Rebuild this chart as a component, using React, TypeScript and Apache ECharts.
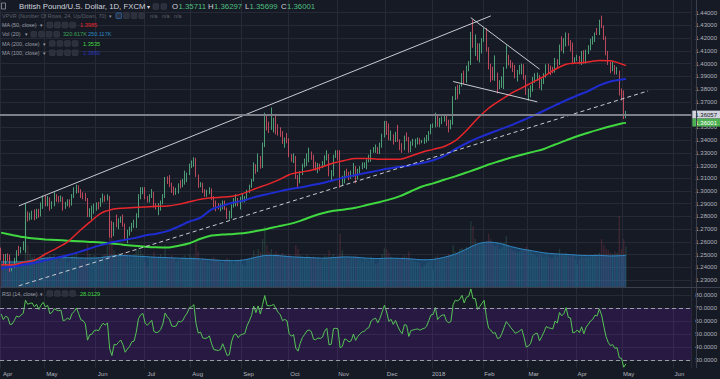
import React, { useEffect, useRef } from 'react';
import * as echarts from 'echarts';

// ---------------- data (GBP/USD daily, FXCM) ----------------
const firstDay = '2017-04-03';
const categoryCount = 312; // trading days shown on the time axis (incl. empty space to the right)
const monthNames = ['Jan', 'Feb', 'Mar', 'Apr', 'May', 'Jun', 'Jul', 'Aug', 'Sep', 'Oct', 'Nov', 'Dec'];

// closes of the 15 sessions before the first visible bar (needed by RSI 14)
const preCloses = [1.2200, 1.2160, 1.2300, 1.2380, 1.2395, 1.2365, 1.2470, 1.2480, 1.2485, 1.2475, 1.2580, 1.2435, 1.2415, 1.2470, 1.2550];

const closes = [
  // Apr 2017
  1.2485, 1.2430, 1.2485, 1.2475, 1.2405, 1.2410, 1.2460, 1.2525, 1.2515, 1.2545, 1.2570, 1.2830, 1.2795, 1.2815, 1.2825, 1.2795, 1.2845, 1.2805, 1.2885, 1.2945,
  // May
  1.2910, 1.2940, 1.2875, 1.2895, 1.2955, 1.2945, 1.2940, 1.2950, 1.2875, 1.2885, 1.2905, 1.2895, 1.2960, 1.2990, 1.3035, 1.3000, 1.2960, 1.2955, 1.2935, 1.2805, 1.2850, 1.2855, 1.2885,
  // Jun
  1.2890, 1.2885, 1.2920, 1.2945, 1.2935, 1.2950, 1.2745, 1.2655, 1.2745, 1.2740, 1.2760, 1.2780, 1.2730, 1.2640, 1.2665, 1.2685, 1.2720, 1.2725, 1.2800, 1.2950, 1.3005, 1.3025,
  // Jul
  1.2945, 1.2925, 1.2955, 1.2985, 1.2885, 1.2875, 1.2880, 1.2905, 1.2960, 1.3100, 1.3070, 1.3050, 1.2995, 1.2990, 1.2995, 1.3045, 1.3040, 1.3055, 1.3100, 1.3135, 1.3205,
  // Aug
  1.3215, 1.3245, 1.3120, 1.3040, 1.3050, 1.2995, 1.2990, 1.2995, 1.3010, 1.2940, 1.2880, 1.2875, 1.2870, 1.2875, 1.2910, 1.2860, 1.2795, 1.2800, 1.2880, 1.2930, 1.2940, 1.2910, 1.2930,
  // Sep
  1.2935, 1.2940, 1.2995, 1.3035, 1.3085, 1.3200, 1.3160, 1.3255, 1.3200, 1.3355, 1.3590, 1.3500, 1.3495, 1.3505, 1.3530, 1.3495, 1.3465, 1.3445, 1.3395, 1.3410, 1.3400,
  // Oct
  1.3280, 1.3255, 1.3270, 1.3110, 1.3065, 1.3140, 1.3200, 1.3235, 1.3275, 1.3285, 1.3270, 1.3190, 1.3185, 1.3200, 1.3195, 1.3205, 1.3255, 1.3280, 1.3125, 1.3130, 1.3280, 1.3285,
  // Nov
  1.3280, 1.3060, 1.3075, 1.3150, 1.3140, 1.3115, 1.3125, 1.3190, 1.3120, 1.3160, 1.3185, 1.3205, 1.3210, 1.3235, 1.3245, 1.3310, 1.3330, 1.3340, 1.3310, 1.3355, 1.3430, 1.3525,
  // Dec
  1.3480, 1.3410, 1.3435, 1.3395, 1.3440, 1.3395, 1.3355, 1.3330, 1.3420, 1.3415, 1.3315, 1.3375, 1.3380, 1.3385, 1.3390, 1.3380, 1.3390, 1.3395, 1.3410, 1.3455, 1.3510,
  // Jan 2018
  1.3515, 1.3590, 1.3520, 1.3550, 1.3565, 1.3570, 1.3535, 1.3525, 1.3535, 1.3720, 1.3800, 1.3795, 1.3825, 1.3905, 1.3860, 1.3975, 1.3995, 1.4220, 1.4145, 1.4150, 1.4060, 1.4120, 1.4190,
  // Feb
  1.4265, 1.4110, 1.3965, 1.3940, 1.3895, 1.3905, 1.3825, 1.3830, 1.3885, 1.3965, 1.4055, 1.4025, 1.3990, 1.3960, 1.3925, 1.3935, 1.3950, 1.3970, 1.3890, 1.3765,
  // Mar
  1.3775, 1.3800, 1.3875, 1.3895, 1.3900, 1.3820, 1.3860, 1.3905, 1.3965, 1.3955, 1.3950, 1.3945, 1.4025, 1.4010, 1.4140, 1.4115, 1.4145, 1.4235, 1.4160, 1.4155, 1.4020, 1.4025,
  // Apr
  1.4050, 1.4025, 1.4085, 1.4020, 1.4090, 1.4125, 1.4165, 1.4185, 1.4240, 1.4235, 1.4335, 1.4290, 1.4195, 1.4085, 1.4010, 1.3965, 1.3975, 1.3925, 1.3930, 1.3775, 1.3765,
  // May
  1.35711, 1.36001,
];

const highs = [
  1.2555, 1.2505, 1.2505, 1.2510, 1.2500, 1.2425, 1.2475, 1.2535, 1.2570, 1.2560, 1.2605, 1.2905, 1.2840, 1.2830, 1.2845, 1.2855, 1.2860, 1.2860, 1.2910, 1.2965,
  1.2965, 1.2960, 1.2950, 1.2920, 1.2990, 1.2975, 1.2960, 1.2965, 1.2955, 1.2915, 1.2935, 1.2935, 1.2975, 1.3030, 1.3050, 1.3045, 1.3015, 1.2990, 1.2985, 1.2945, 1.2865, 1.2885, 1.2900,
  1.2910, 1.2915, 1.2945, 1.2980, 1.2965, 1.2975, 1.2960, 1.2765, 1.2755, 1.2815, 1.2785, 1.2800, 1.2815, 1.2745, 1.2695, 1.2720, 1.2750, 1.2775, 1.2825, 1.2975, 1.3030, 1.3030,
  1.3030, 1.2960, 1.2975, 1.3015, 1.2995, 1.2905, 1.2905, 1.2925, 1.2975, 1.3110, 1.3115, 1.3125, 1.3065, 1.3035, 1.3025, 1.3060, 1.3085, 1.3095, 1.3160, 1.3145, 1.3215,
  1.3240, 1.3265, 1.3260, 1.3130, 1.3070, 1.3065, 1.3015, 1.3010, 1.3030, 1.3020, 1.2960, 1.2925, 1.2905, 1.2900, 1.2925, 1.2925, 1.2870, 1.2845, 1.2895, 1.2945, 1.2975, 1.2945, 1.2955,
  1.2980, 1.2960, 1.3010, 1.3050, 1.3095, 1.3225, 1.3210, 1.3295, 1.3275, 1.3380, 1.3615, 1.3600, 1.3545, 1.3655, 1.3575, 1.3605, 1.3525, 1.3500, 1.3470, 1.3420, 1.3455,
  1.3415, 1.3290, 1.3295, 1.3275, 1.3125, 1.3155, 1.3215, 1.3255, 1.3295, 1.3340, 1.3310, 1.3285, 1.3230, 1.3220, 1.3215, 1.3235, 1.3280, 1.3320, 1.3290, 1.3165, 1.3285, 1.3320,
  1.3320, 1.3320, 1.3120, 1.3160, 1.3175, 1.3150, 1.3160, 1.3220, 1.3195, 1.3175, 1.3195, 1.3225, 1.3225, 1.3250, 1.3285, 1.3325, 1.3345, 1.3365, 1.3345, 1.3380, 1.3450, 1.3550,
  1.3550, 1.3530, 1.3475, 1.3445, 1.3465, 1.3520, 1.3405, 1.3375, 1.3435, 1.3460, 1.3425, 1.3390, 1.3410, 1.3410, 1.3420, 1.3415, 1.3400, 1.3420, 1.3440, 1.3470, 1.3525,
  1.3530, 1.3615, 1.3605, 1.3575, 1.3585, 1.3600, 1.3590, 1.3560, 1.3560, 1.3745, 1.3820, 1.3835, 1.3835, 1.3925, 1.3945, 1.3985, 1.4020, 1.4250, 1.4345, 1.4230, 1.4160, 1.4160, 1.4200,
  1.4280, 1.4280, 1.4130, 1.4000, 1.3975, 1.4065, 1.3930, 1.3870, 1.3900, 1.3975, 1.4145, 1.4070, 1.4030, 1.4010, 1.3990, 1.3950, 1.3990, 1.4000, 1.3995, 1.3910,
  1.3805, 1.3830, 1.3895, 1.3925, 1.3930, 1.3910, 1.3880, 1.3925, 1.3995, 1.4000, 1.3985, 1.3975, 1.4045, 1.4035, 1.4150, 1.4215, 1.4200, 1.4245, 1.4240, 1.4185, 1.4165, 1.4050,
  1.4070, 1.4060, 1.4100, 1.4105, 1.4110, 1.4145, 1.4195, 1.4215, 1.4245, 1.4280, 1.4345, 1.4377, 1.4300, 1.4215, 1.4100, 1.4015, 1.4015, 1.3990, 1.3975, 1.3945, 1.3805,
  1.3790, 1.36297,
];

const lows = [
  1.2455, 1.2420, 1.2425, 1.2450, 1.2365, 1.2370, 1.2395, 1.2440, 1.2490, 1.2510, 1.2535, 1.2515, 1.2760, 1.2770, 1.2775, 1.2770, 1.2780, 1.2790, 1.2800, 1.2860,
  1.2880, 1.2880, 1.2845, 1.2860, 1.2880, 1.2915, 1.2910, 1.2915, 1.2845, 1.2860, 1.2880, 1.2870, 1.2885, 1.2945, 1.2980, 1.2985, 1.2945, 1.2935, 1.2920, 1.2795, 1.2795, 1.2775, 1.2820,
  1.2845, 1.2855, 1.2875, 1.2910, 1.2915, 1.2925, 1.2635, 1.2630, 1.2645, 1.2715, 1.2700, 1.2750, 1.2720, 1.2620, 1.2590, 1.2650, 1.2680, 1.2710, 1.2710, 1.2790, 1.2935, 1.2975,
  1.2935, 1.2910, 1.2910, 1.2945, 1.2870, 1.2855, 1.2810, 1.2845, 1.2895, 1.2945, 1.3055, 1.3030, 1.2985, 1.2965, 1.2970, 1.2980, 1.3020, 1.3030, 1.3050, 1.3070, 1.3125,
  1.3180, 1.3190, 1.3110, 1.3025, 1.3030, 1.2985, 1.2955, 1.2955, 1.2975, 1.2930, 1.2870, 1.2840, 1.2855, 1.2840, 1.2855, 1.2850, 1.2780, 1.2775, 1.2785, 1.2870, 1.2880, 1.2880, 1.2855,
  1.2910, 1.2910, 1.2925, 1.2985, 1.3025, 1.3075, 1.3135, 1.3150, 1.3175, 1.3180, 1.3345, 1.3475, 1.3455, 1.3480, 1.3460, 1.3445, 1.3435, 1.3425, 1.3370, 1.3340, 1.3375,
  1.3265, 1.3230, 1.3220, 1.3095, 1.3030, 1.3060, 1.3125, 1.3185, 1.3195, 1.3225, 1.3245, 1.3175, 1.3160, 1.3140, 1.3160, 1.3180, 1.3195, 1.3240, 1.3115, 1.3085, 1.3115, 1.3260,
  1.3240, 1.3025, 1.3040, 1.3060, 1.3110, 1.3085, 1.3095, 1.3110, 1.3060, 1.3090, 1.3135, 1.3170, 1.3180, 1.3170, 1.3225, 1.3230, 1.3300, 1.3300, 1.3290, 1.3290, 1.3340, 1.3420,
  1.3440, 1.3400, 1.3395, 1.3365, 1.3385, 1.3385, 1.3320, 1.3300, 1.3320, 1.3390, 1.3300, 1.3305, 1.3355, 1.3340, 1.3365, 1.3365, 1.3375, 1.3370, 1.3380, 1.3395, 1.3445,
  1.3495, 1.3500, 1.3505, 1.3500, 1.3525, 1.3545, 1.3510, 1.3460, 1.3485, 1.3520, 1.3715, 1.3720, 1.3760, 1.3820, 1.3840, 1.3850, 1.3940, 1.3990, 1.4125, 1.4060, 1.4025, 1.4010, 1.4080,
  1.4170, 1.4095, 1.3955, 1.3855, 1.3870, 1.3865, 1.3765, 1.3800, 1.3810, 1.3800, 1.3960, 1.3985, 1.3965, 1.3935, 1.3885, 1.3860, 1.3915, 1.3915, 1.3875, 1.3755,
  1.3710, 1.3735, 1.3780, 1.3850, 1.3865, 1.3805, 1.3790, 1.3840, 1.3890, 1.3925, 1.3910, 1.3925, 1.3930, 1.3965, 1.3990, 1.4100, 1.4080, 1.4135, 1.4140, 1.4095, 1.3995, 1.4005,
  1.4020, 1.3995, 1.3990, 1.4000, 1.4000, 1.4075, 1.4105, 1.4150, 1.4170, 1.4225, 1.4225, 1.4280, 1.4185, 1.4065, 1.3990, 1.3925, 1.3940, 1.3915, 1.3915, 1.3750, 1.3710,
  1.3565, 1.35699,
];

// daily volume, thousands
const volumesK = [
  190, 180, 200, 185, 230, 210, 195, 220, 205, 170, 180, 520, 330, 260, 240, 250, 230, 220, 240, 260,
  230, 240, 250, 220, 260, 230, 210, 220, 250, 230, 200, 210, 260, 250, 270, 230, 220, 210, 230, 340, 260, 240, 250,
  240, 230, 220, 250, 260, 330, 560, 380, 290, 260, 270, 250, 240, 280, 250, 240, 220, 260, 300, 330, 290, 260,
  200, 150, 230, 240, 280, 230, 240, 260, 240, 330, 240, 220, 250, 230, 200, 210, 220, 240, 250, 230, 260,
  240, 250, 350, 280, 210, 230, 220, 210, 200, 230, 240, 220, 210, 200, 190, 210, 230, 220, 200, 180, 200, 210, 220,
  180, 170, 220, 230, 240, 290, 250, 300, 280, 380, 480, 330, 280, 300, 260, 280, 260, 250, 270, 250, 240,
  260, 240, 230, 330, 300, 250, 240, 230, 250, 240, 230, 240, 220, 230, 210, 220, 250, 240, 290, 240, 260, 230,
  250, 420, 290, 240, 230, 220, 230, 240, 250, 230, 220, 210, 230, 220, 210, 240, 230, 180, 190, 220, 260, 310,
  300, 270, 240, 230, 230, 220, 220, 240, 250, 240, 280, 220, 210, 200, 200, 190, 150, 170, 190, 200, 210,
  140, 240, 250, 230, 220, 230, 240, 260, 250, 330, 280, 270, 300, 310, 290, 320, 310, 520, 480, 380, 340, 330, 360,
  350, 360, 420, 380, 340, 320, 330, 300, 310, 350, 400, 330, 300, 290, 280, 270, 280, 290, 300, 320,
  300, 280, 260, 250, 240, 260, 250, 240, 250, 240, 230, 230, 250, 240, 300, 260, 250, 270, 250, 240, 260, 220,
  180, 220, 240, 230, 240, 230, 240, 250, 260, 250, 270, 380, 330, 300, 290, 270, 260, 280, 270, 560, 300,
  380, 320.617,
];

// moving averages at these bar indices
const maIndex = [0, 5, 10, 15, 20, 25, 30, 35, 40, 45, 50, 55, 60, 65, 70, 75, 80, 85, 90, 95, 100, 105, 110, 115, 120, 125, 130, 135, 140, 145, 150, 155, 160, 165, 170, 175, 180, 185, 190, 195, 200, 205, 210, 215, 220, 225, 230, 235, 240, 245, 250, 255, 260, 265, 270, 275, 280, 282];
const ma50 = [1.2420, 1.2420, 1.2440, 1.2455, 1.2505, 1.2550, 1.2600, 1.2680, 1.2755, 1.2825, 1.2855, 1.2865, 1.2870, 1.2875, 1.2880, 1.2883, 1.2895, 1.2915, 1.2935, 1.2946, 1.2952, 1.2960, 1.2985, 1.3020, 1.3050, 1.3085, 1.3128, 1.3148, 1.3163, 1.3190, 1.3220, 1.3240, 1.3255, 1.3255, 1.3250, 1.3250, 1.3250, 1.3275, 1.3305, 1.3327, 1.3350, 1.3395, 1.3475, 1.3570, 1.3650, 1.3710, 1.3765, 1.3810, 1.3855, 1.3900, 1.3955, 1.3996, 1.4005, 1.4013, 1.4025, 1.4022, 1.3998, 1.3985];
const ma100 = [1.2395, 1.2405, 1.2420, 1.2435, 1.2455, 1.2475, 1.2496, 1.2520, 1.2548, 1.2575, 1.2598, 1.2613, 1.2630, 1.2650, 1.2665, 1.2685, 1.2720, 1.2760, 1.2790, 1.2855, 1.2885, 1.2910, 1.2928, 1.2955, 1.2975, 1.2995, 1.3013, 1.3028, 1.3045, 1.3062, 1.3085, 1.3107, 1.3126, 1.3143, 1.3160, 1.3176, 1.3190, 1.3203, 1.3220, 1.3242, 1.3275, 1.3328, 1.3375, 1.3415, 1.3450, 1.3482, 1.3515, 1.3552, 1.3590, 1.3630, 1.3673, 1.3712, 1.3750, 1.3785, 1.3830, 1.3860, 1.3875, 1.3880];
const ma200 = [1.2673, 1.2655, 1.2638, 1.2626, 1.2620, 1.2615, 1.2610, 1.2605, 1.2600, 1.2595, 1.2588, 1.2578, 1.2570, 1.2563, 1.2558, 1.2556, 1.2570, 1.2590, 1.2625, 1.2650, 1.2658, 1.2663, 1.2670, 1.2685, 1.2702, 1.2722, 1.2740, 1.2765, 1.2798, 1.2825, 1.2845, 1.2855, 1.2868, 1.2890, 1.2910, 1.2932, 1.2960, 1.2998, 1.3035, 1.3060, 1.3088, 1.3115, 1.3145, 1.3175, 1.3208, 1.3235, 1.3262, 1.3285, 1.3307, 1.3330, 1.3365, 1.3398, 1.3430, 1.3458, 1.3484, 1.3508, 1.3530, 1.3535];
const volMa20K = [200, 198, 200, 215, 228, 232, 232, 230, 228, 232, 245, 248, 245, 240, 235, 232, 228, 225, 222, 215, 210, 208, 215, 235, 250, 248, 240, 235, 232, 228, 232, 238, 235, 228, 225, 228, 226, 222, 215, 218, 235, 260, 300, 340, 355, 345, 320, 300, 285, 270, 262, 258, 252, 248, 250, 245, 248, 250];

// drawn trend lines: [bar index, price]
const trendFrom = [[8, 1.2883], [8, 1.2255], [212, 1.4361], [204, 1.3860]];
const trendTo = [[221, 1.4375], [292, 1.3786], [243, 1.3957], [242, 1.3700]];
const trendDashed = [false, true, false, false];
const horizontalLine = 1.36057;

const ohlcText = { O: '1.35711', H: '1.36297', L: '1.35699', C: '1.36001' };
const rsiText = '28.0129';
const ma50Text = '1.3985';
const ma100Text = '1.3880';
const ma200Text = '1.3535';
const volText = '320.617K';
const volMaText = '250.117K';

// ---------------- styling ----------------
const BG = '#161a25';
const GRID = '#262a36';
const AXIS_TEXT = '#b2b5be';
const FONT = 'Liberation Sans';
const UP = '#5bbf8c';
const DOWN = '#e4566b';
const RED = '#e8262b';
const BLUE = '#1f2cd0';
const GREEN = '#40d840';

function buildDates(): string[] {
  const out: string[] = [];
  const d = new Date(firstDay + 'T00:00:00Z');
  while (out.length < categoryCount) {
    const wd = d.getUTCDay();
    if (wd !== 0 && wd !== 6) out.push(d.toISOString().slice(0, 10));
    d.setUTCDate(d.getUTCDate() + 1);
  }
  return out;
}

function wilderRsi(series: number[], period: number): number[] {
  const out: number[] = [];
  let g = 0;
  let l = 0;
  for (let k = 1; k <= period; k++) {
    const ch = series[k] - series[k - 1];
    if (ch > 0) g += ch; else l -= ch;
  }
  g /= period;
  l /= period;
  out[period] = l === 0 ? 100 : 100 - 100 / (1 + g / l);
  for (let k = period + 1; k < series.length; k++) {
    const ch = series[k] - series[k - 1];
    g = (g * (period - 1) + Math.max(ch, 0)) / period;
    l = (l * (period - 1) + Math.max(-ch, 0)) / period;
    out[k] = l === 0 ? 100 : 100 - 100 / (1 + g / l);
  }
  return out;
}

function buildOption() {
  const dates = buildDates();
  const monthStart = dates.map((d, i) => i === 0 || d.slice(5, 7) !== dates[i - 1].slice(5, 7));
  const splitFn = (index: number) => monthStart[index];

  const opens = closes.map((c, i) => (i === 0 ? preCloses[preCloses.length - 1] : closes[i - 1]));
  const candles = closes.map((c, i) => {
    const o = opens[i];
    return [o, c, Math.min(lows[i], o, c), Math.max(highs[i], o, c)];
  });
  const volBars = volumesK.map((v, i) => ({
    value: v,
    itemStyle: { color: closes[i] >= opens[i] ? 'rgba(83,185,135,0.2)' : 'rgba(228,86,107,0.2)' },
  }));
  const rsiAll = wilderRsi(preCloses.concat(closes), 14);
  const rsi = closes.map((_, i) => +rsiAll[i + preCloses.length].toFixed(2));

  const pairs = (vals: number[]) => vals.map((v, k) => [maIndex[k], v]);

  const lastClose = closes[closes.length - 1];

  const xBase = {
    type: 'category',
    data: dates,
    boundaryGap: true,
    axisLine: { show: false },
    axisTick: { show: false },
    axisLabel: { show: false },
    splitLine: { show: true, interval: splitFn, lineStyle: { color: GRID, width: 1 } },
  };

  const trendData = trendFrom.map((f, k) => [
    { coord: f, lineStyle: { color: '#c9cbd1', width: 1, type: trendDashed[k] ? [4, 3] : 'solid' } },
    { coord: trendTo[k] },
  ]);

  // header graphics
  const g: any[] = [];
  const txt = (text: string, x: number, y: number, size: number, fill: string) =>
    g.push({ type: 'text', x, y, z: 20, silent: true, style: { text, fill, fontSize: size, fontFamily: FONT, verticalAlign: 'middle' } });
  const icon = (x: number, y: number, stroke?: string) =>
    g.push({ type: 'rect', z: 20, silent: true, shape: { x, y: y - 2.8, width: 5.6, height: 5.6, r: 0.8 }, style: { fill: '#2c303c', stroke: stroke || '#3a3e4a', lineWidth: 0.6 } });
  const icons = (x0: number, y: number, n: number, step: number, firstStroke?: string) => {
    for (let k = 0; k < n; k++) icon(x0 + k * step, y, k === 0 ? firstStroke : undefined);
  };

  // line 1
  g.push({ type: 'rect', z: 20, silent: true, shape: { x: 1.5, y: 3, width: 4, height: 6 }, style: { fill: 'none', stroke: '#9598a1', lineWidth: 0.8 } });
  txt('British Pound/U.S. Dollar, 1D, FXCM', 19, 6.5, 7.8, '#d1d4dc');
  txt('▾', 146.5, 6.5, 6, '#d1d4dc');
  icons(153, 6.5, 2, 8);
  txt('O', 172, 6.5, 7.8, '#d1d4dc');
  txt(ohlcText.O, 178.5, 6.5, 7.8, '#4fbf7f');
  txt('H', 208, 6.5, 7.8, '#d1d4dc');
  txt(ohlcText.H, 214, 6.5, 7.8, '#4fbf7f');
  txt('L', 245, 6.5, 7.8, '#d1d4dc');
  txt(ohlcText.L, 249.5, 6.5, 7.8, '#4fbf7f');
  txt('C', 281, 6.5, 7.8, '#d1d4dc');
  txt(ohlcText.C, 287, 6.5, 7.8, '#4fbf7f');
  // line 2
  txt('VPVR (Number Of Rows, 24, Up/Down, 70)', 2, 15.7, 5.4, '#5d606b');
  txt('▾', 109, 15.7, 5, '#8a8d96');
  icons(116, 15.7, 4, 7.6, '#2f7fd8');
  txt('n/a', 150, 15.7, 5.4, '#5d606b');
  txt('n/a', 162, 15.7, 5.4, '#5d606b');
  txt('n/a', 174, 15.7, 5.4, '#5d606b');
  // line 3
  txt('MA (50, close)', 2, 25, 5.4, '#9a9da6');
  txt('▾', 39.5, 25, 5, '#9a9da6');
  icons(47, 25, 4, 7.6);
  txt(ma50Text, 80, 25, 5.6, RED);
  // line 4
  txt('Vol (20)', 2, 34.3, 5.4, '#9a9da6');
  txt('▾', 24.5, 34.3, 5, '#9a9da6');
  icons(31, 34.3, 4, 7.6);
  txt(volText, 63, 34.3, 5.6, '#3fa55a');
  txt(volMaText, 88, 34.3, 5.6, '#2f86c0');
  // line 5
  txt('MA (200, close)', 2, 43.5, 5.4, '#9a9da6');
  txt('▾', 42.5, 43.5, 5, '#9a9da6');
  icons(49.5, 43.5, 4, 7.6);
  txt(ma200Text, 83, 43.5, 5.6, GREEN);
  // line 6
  txt('MA (100, close)', 2, 52.7, 5.4, '#9a9da6');
  txt('▾', 42.5, 52.7, 5, '#9a9da6');
  icons(49.5, 52.7, 4, 7.6);
  txt(ma100Text, 83, 52.7, 5.6, '#2a37b8');
  // RSI header
  txt('RSI (14, close)', 2, 293.5, 5.4, '#9a9da6');
  txt('▾', 39.5, 293.5, 5, '#9a9da6');
  icons(47, 293.5, 4, 7.6);
  txt(rsiText, 80, 293.5, 5.6, GREEN);

  // pane borders
  g.push({ type: 'line', z: 15, silent: true, shape: { x1: 0, y1: 287.5, x2: 720, y2: 287.5 }, style: { stroke: '#3c404c', lineWidth: 1 } });
  g.push({ type: 'line', z: 15, silent: true, shape: { x1: 696.5, y1: 0, x2: 696.5, y2: 368 }, style: { stroke: '#3c404c', lineWidth: 1 } });
  g.push({ type: 'rect', z: 1, silent: true, shape: { x: 0, y: 368.5, width: 720, height: 11 }, style: { fill: BG } });

  return {
    animation: false,
    backgroundColor: BG,
    textStyle: { fontFamily: FONT },
    grid: [
      { left: 0, top: -2.857, width: 696, height: 295.714 },
      { left: 0, top: 282, width: 696, height: 91 },
      { left: 0, top: 368, width: 696, height: 11 },
    ],
    xAxis: [
      { ...xBase, gridIndex: 0 },
      { ...xBase, gridIndex: 1 },
      {
        type: 'category',
        gridIndex: 2,
        data: dates,
        position: 'top',
        z: 5,
        axisLine: { show: true, lineStyle: { color: '#3c404c' } },
        axisTick: { show: false },
        splitLine: { show: false },
        axisLabel: {
          inside: true,
          interval: splitFn,
          margin: 3,
          fontSize: 6,
          color: AXIS_TEXT,
          fontFamily: FONT,
          formatter: (v: string) => {
            const m = +v.slice(5, 7);
            return m === 1 ? v.slice(0, 4) : monthNames[m - 1];
          },
        },
      },
    ],
    yAxis: [
      {
        type: 'value',
        gridIndex: 0,
        position: 'right',
        min: 1.22,
        max: 1.45,
        interval: 0.01,
        axisLine: { show: false },
        axisTick: { show: false },
        axisLabel: {
          fontSize: 6,
          color: AXIS_TEXT,
          margin: 4,
          fontFamily: FONT,
          showMinLabel: false,
          showMaxLabel: false,
          formatter: (v: number) => (v < 1.225 || v > 1.445 ? '' : v.toFixed(5)),
        },
        splitLine: { show: true, showMinLine: false, showMaxLine: false, lineStyle: { color: GRID } },
      },
      { type: 'value', gridIndex: 0, min: -45.76, max: 2264.5, show: false, splitLine: { show: false } },
      {
        type: 'value',
        gridIndex: 1,
        position: 'right',
        min: 20,
        max: 90,
        interval: 10,
        axisLine: { show: false },
        axisTick: { show: false },
        axisLabel: {
          fontSize: 6,
          color: AXIS_TEXT,
          margin: 4,
          fontFamily: FONT,
          showMinLabel: false,
          showMaxLabel: false,
          formatter: (v: number) => (v < 25 || v > 85 ? '' : v.toFixed(4)),
        },
        splitLine: { show: true, showMinLine: false, showMaxLine: false, lineStyle: { color: GRID } },
      },
      { type: 'value', gridIndex: 2, show: false, splitLine: { show: false } },
    ],
    series: [
      {
        name: 'Volume',
        type: 'bar',
        xAxisIndex: 0,
        yAxisIndex: 1,
        data: volBars,
        barWidth: '60%',
        z: 1,
        silent: true,
      },
      {
        name: 'Vol MA 20',
        type: 'line',
        xAxisIndex: 0,
        yAxisIndex: 1,
        data: pairs(volMa20K),
        smooth: 0.3,
        symbol: 'none',
        lineStyle: { color: '#2f86c0', width: 1 },
        areaStyle: { color: 'rgba(36,122,190,0.6)' },
        z: 2,
        silent: true,
      },
      {
        name: 'GBPUSD',
        type: 'candlestick',
        xAxisIndex: 0,
        yAxisIndex: 0,
        data: candles,
        barWidth: '52%',
        z: 3,
        itemStyle: { color: UP, color0: DOWN, borderColor: UP, borderColor0: DOWN, borderWidth: 0.8 },
        markLine: {
          silent: true,
          symbol: ['none', 'none'],
          animation: false,
          label: { show: false },
          data: [
            ...trendData,
            {
              yAxis: horizontalLine,
              lineStyle: { color: '#7d8089', width: 2, type: 'solid' },
              label: {
                show: true,
                position: 'end',
                distance: 1,
                formatter: horizontalLine.toFixed(5),
                backgroundColor: '#d1d4dc',
                color: '#131722',
                fontSize: 6,
                fontFamily: FONT,
                padding: [1, 3, 1, 3],
              },
            },
            {
              yAxis: lastClose,
              lineStyle: { color: 'rgba(0,0,0,0)', width: 0 },
              label: {
                show: true,
                position: 'end',
                distance: 1,
                formatter: lastClose.toFixed(5),
                backgroundColor: '#4caf50',
                color: '#ffffff',
                fontSize: 6,
                fontFamily: FONT,
                padding: [1, 3, 1, 3],
                offset: [0, 8],
              },
            },
          ],
        },
      },
      {
        name: 'MA 200',
        type: 'line',
        xAxisIndex: 0,
        yAxisIndex: 0,
        data: pairs(ma200),
        smooth: 0.3,
        symbol: 'none',
        lineStyle: { color: GREEN, width: 2 },
        z: 4,
        silent: true,
      },
      {
        name: 'MA 100',
        type: 'line',
        xAxisIndex: 0,
        yAxisIndex: 0,
        data: pairs(ma100),
        smooth: 0.3,
        symbol: 'none',
        lineStyle: { color: BLUE, width: 2 },
        z: 4,
        silent: true,
      },
      {
        name: 'MA 50',
        type: 'line',
        xAxisIndex: 0,
        yAxisIndex: 0,
        data: pairs(ma50),
        smooth: 0.3,
        symbol: 'none',
        lineStyle: { color: RED, width: 1.5 },
        z: 4,
        silent: true,
      },
      {
        name: 'RSI 14',
        type: 'line',
        xAxisIndex: 1,
        yAxisIndex: 2,
        data: rsi,
        symbol: 'none',
        lineStyle: { color: '#56c456', width: 1 },
        z: 3,
        silent: true,
        markArea: {
          silent: true,
          itemStyle: { color: 'rgba(153,21,255,0.13)' },
          data: [[{ yAxis: 30 }, { yAxis: 70 }]],
        },
        markLine: {
          silent: true,
          symbol: ['none', 'none'],
          label: { show: false },
          lineStyle: { color: '#9a9da6', type: [4, 3], width: 1 },
          data: [{ yAxis: 70 }, { yAxis: 30 }],
        },
      },
    ],
    graphic: g,
  };
}

export default function App() {
  const ref = useRef<HTMLDivElement>(null);
  useEffect(() => {
    document.body.style.margin = '0';
    document.body.style.background = BG;
    const chart = echarts.init(ref.current as HTMLDivElement, undefined, { renderer: 'svg' });
    chart.setOption(buildOption() as any);
    return () => chart.dispose();
  }, []);
  return <div ref={ref} style={{ width: 720, height: 379 }} />;
}
